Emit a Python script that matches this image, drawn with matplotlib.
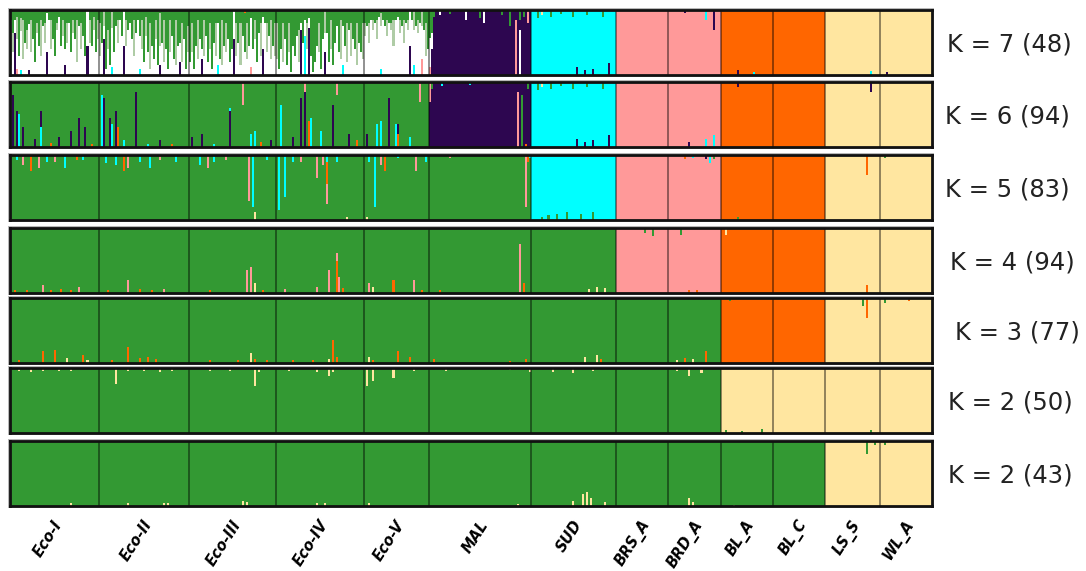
"""STRUCTURE-style admixture bar plot, K = 2..7."""

import matplotlib

matplotlib.use("Agg")

import matplotlib.pyplot as plt
import matplotlib.transforms as mtransforms
import numpy as np
from matplotlib.patches import Rectangle

# ---- data -----------------------------------------------------------------
pops = ["Eco-I", "Eco-II", "Eco-III", "Eco-IV", "Eco-V", "MAL", "SUD",
        "BRS_A", "BRD_A", "BL_A", "BL_C", "LS_S", "WL_A"]
n_ind = [44, 45, 43, 44, 32, 51, 42, 26, 26, 26, 26, 27, 26]

cluster_colors = {
    "G": "#339933",  # green
    "P": "#2D0650",  # dark purple
    "C": "#00FFFF",  # cyan
    "K": "#FF9999",  # pink
    "O": "#FF6600",  # orange
    "Y": "#FFE6A0",  # pale yellow
    "W": "#FFFFFF",  # white (K=7 only)
    "S": "#AFCCA6",  # pale sage (K=7 only)
}

row_labels = ["K = 7 (48)", "K = 6 (94)", "K = 5 (83)", "K = 4 (94)",
              "K = 3 (77)", "K = 2 (50)", "K = 2 (43)"]
# main cluster of each population, one letter per population
row_major = ["GGGGGPCKKOOYY", "GGGGGPCKKOOYY", "GGGGGGCKKOOYY",
             "GGGGGGGKKOOYY", "GGGGGGGGGOOYY", "GGGGGGGGGYYYY",
             "GGGGGGGGGGGYY"]

# K=7: white and sage ancestry of each Eco individual (stacked from bottom)
k7_white = {
    "Eco-I": [0.15, 0.35, 0.2, 0.45, 0.3, 0.6, 0.25, 0.5, 0.4, 0.7, 0.35, 0.55, 0.2, 0.65, 0.45,
              0.3, 0.75, 0.5, 0.6, 0.85, 0.4, 0.55, 0.3, 0.7, 0.9, 0.45, 0.6, 0.25, 0.5, 0.8,
              0.35, 0.65, 0.55, 0.2, 0.75, 0.4, 0.6, 0.3, 0.85, 0.5, 0.45, 0.7, 0.35, 0.55],
    "Eco-II": [0.3, 0.5, 0.2, 0.1, 0.4, 0.15, 0.6, 0.35, 0.75, 0.5, 0.85, 0.6, 0.9, 0.45, 0.7,
               0.8, 0.55, 0.3, 0.65, 0.85, 0.5, 0.4, 0.2, 0.6, 0.35, 0.1, 0.45, 0.25, 0.55, 0.15,
               0.3, 0.5, 0.2, 0.4, 0.1, 0.35, 0.6, 0.25, 0.15, 0.45, 0.3, 0.2, 0.55, 0.1, 0.35],
    "Eco-III": [0.2, 0.35, 0.1, 0.45, 0.25, 0.55, 0.15, 0.3, 0.6, 0.2, 0.4, 0.1, 0.5, 0.3, 0.65,
                0.25, 0.15, 0.45, 0.35, 0.55, 0.2, 0.4, 0.7, 0.3, 0.5, 0.15, 0.6, 0.35, 0.25, 0.45,
                0.75, 0.4, 0.55, 0.2, 0.65, 0.3, 0.5, 0.8, 0.35, 0.6, 0.25, 0.45, 0.3],
    "Eco-IV": [0.25, 0.1, 0.4, 0.2, 0.55, 0.15, 0.35, 0.05, 0.45, 0.3, 0.6, 0.2, 0.1, 0.5, 0.25,
               0.4, 0.15, 0.3, 0.05, 0.2, 0.45, 0.35, 0.1, 0.55, 0.3, 0.65, 0.2, 0.4, 0.15, 0.5,
               0.75, 0.35, 0.25, 0.6, 0.45, 0.2, 0.7, 0.3, 0.55, 0.4, 0.15, 0.5, 0.35, 0.25],
    "Eco-V": [0.6, 0.75, 0.5, 0.85, 0.7, 0.8, 0.55, 0.9, 0.65, 0.85, 0.75, 0.6, 0.8, 0.7, 0.45,
              0.85, 0.9, 0.65, 0.75, 0.5, 0.8, 0.7, 0.6, 0.85, 0.55, 0.75, 0.65, 0.8, 0.5, 0.7,
              0.3, 0.4],
}
k7_sage = {
    "Eco-I": [0.7, 0.3, 0, 0.35, 0, 0.2, 0.6, 0, 0.3, 0, 0.5, 0, 0, 0.15, 0, 0.55, 0, 0.3, 0, 0,
              0.45, 0, 0, 0.1, 0, 0, 0.25, 0, 0.3, 0, 0, 0.2, 0, 0.65, 0, 0.4, 0, 0, 0, 0.35,
              0, 0.2, 0, 0.3],
    "Eco-II": [0.5, 0, 0.6, 0, 0.3, 0, 0.25, 0, 0, 0.35, 0, 0, 0, 0.4, 0, 0, 0, 0.55, 0, 0,
               0, 0.45, 0, 0.3, 0, 0.7, 0, 0, 0.3, 0, 0.5, 0, 0.65, 0, 0, 0.5, 0, 0, 0.7, 0,
               0, 0.6, 0, 0, 0.4],
    "Eco-III": [0, 0.45, 0, 0, 0.6, 0, 0, 0.55, 0, 0, 0.4, 0, 0, 0.5, 0, 0, 0.7, 0, 0.45, 0,
                0, 0, 0, 0.5, 0, 0.65, 0, 0, 0.55, 0, 0, 0, 0.3, 0, 0, 0.5, 0, 0, 0.45, 0,
                0.6, 0, 0.5],
    "Eco-IV": [0.55, 0, 0, 0.6, 0, 0, 0.45, 0, 0, 0, 0, 0.5, 0, 0, 0, 0.4, 0, 0, 0, 0,
               0, 0.45, 0, 0, 0.55, 0, 0, 0.45, 0, 0, 0, 0, 0.6, 0, 0, 0.6, 0, 0.5, 0, 0,
               0.65, 0, 0, 0.55],
    "Eco-V": [0.2, 0, 0.3, 0, 0.15, 0, 0.3, 0, 0.2, 0, 0, 0.25, 0, 0.1, 0.4, 0, 0, 0.2, 0, 0.35,
              0, 0.15, 0.25, 0, 0.3, 0, 0.2, 0, 0.3, 0, 0.5, 0],
}

# admixed individuals: (population, index, cluster, fraction, "b"ottom / "t"op)
spikes_k7 = [
    ("Eco-I", 2, "P", 0.65, "b"), ("Eco-I", 3, "K", 0.1, "b"), ("Eco-I", 5, "C", 0.08, "b"),
    ("Eco-I", 9, "P", 0.08, "b"), ("Eco-I", 18, "P", 0.35, "b"), ("Eco-I", 27, "P", 0.15, "b"),
    ("Eco-I", 38, "P", 0.45, "b"), ("Eco-II", 2, "P", 0.55, "b"), ("Eco-II", 6, "C", 0.12, "b"),
    ("Eco-II", 12, "P", 0.45, "b"), ("Eco-II", 20, "C", 0.1, "b"), ("Eco-II", 30, "P", 0.15, "b"),
    ("Eco-II", 40, "P", 0.2, "b"), ("Eco-III", 6, "P", 0.25, "b"), ("Eco-III", 14, "C", 0.15, "b"),
    ("Eco-III", 22, "P", 0.55, "b"), ("Eco-III", 30, "K", 0.12, "b"), ("Eco-III", 36, "P", 0.4, "b"),
    ("Eco-III", 27, "O", 0.05, "t"), ("Eco-IV", 12, "P", 0.7, "b"), ("Eco-IV", 14, "C", 0.6, "b"),
    ("Eco-IV", 16, "P", 0.72, "b"), ("Eco-IV", 24, "P", 0.35, "b"), ("Eco-IV", 33, "C", 0.15, "b"),
    ("Eco-V", 8, "C", 0.1, "b"), ("Eco-V", 22, "P", 0.45, "b"), ("Eco-V", 24, "C", 0.15, "b"),
    ("Eco-V", 28, "K", 0.25, "b"),
    ("MAL", 0, "K", 0.12, "b"), ("MAL", 0, "W", 0.45, "b"), ("MAL", 0, "G", 0.43, "t"),
    ("MAL", 1, "G", 0.35, "t"), ("MAL", 1, "W", 0.25, "t"), ("MAL", 2, "G", 0.1, "t"),
    ("MAL", 5, "W", 0.08, "t"), ("MAL", 10, "G", 0.06, "t"), ("MAL", 18, "W", 0.15, "t"),
    ("MAL", 25, "G", 0.12, "t"), ("MAL", 27, "W", 0.2, "t"), ("MAL", 36, "G", 0.08, "t"),
    ("MAL", 40, "G", 0.25, "t"), ("MAL", 43, "K", 0.85, "b"), ("MAL", 45, "W", 0.7, "b"),
    ("MAL", 45, "G", 0.15, "t"), ("MAL", 47, "G", 0.1, "t"), ("MAL", 49, "K", 0.2, "t"),
    ("SUD", 3, "G", 0.12, "t"), ("SUD", 5, "Y", 0.08, "t"), ("SUD", 9, "G", 0.1, "t"),
    ("SUD", 14, "G", 0.06, "t"), ("SUD", 20, "G", 0.1, "t"), ("SUD", 27, "G", 0.08, "t"),
    ("SUD", 35, "G", 0.1, "t"), ("SUD", 22, "P", 0.12, "b"), ("SUD", 26, "P", 0.08, "b"),
    ("SUD", 30, "P", 0.1, "b"), ("SUD", 38, "P", 0.18, "b"),
    ("BRD_A", 8, "P", 0.05, "t"), ("BRD_A", 18, "C", 0.15, "t"), ("BRD_A", 22, "P", 0.3, "t"),
    ("BL_A", 8, "P", 0.08, "b"), ("BL_A", 16, "C", 0.05, "b"),
    ("LS_S", 22, "C", 0.06, "b"), ("WL_A", 3, "P", 0.05, "b"),
]
spikes_k6 = [
    ("Eco-I", 1, "P", 0.8, "b"), ("Eco-I", 3, "P", 0.55, "b"), ("Eco-I", 4, "C", 0.5, "b"),
    ("Eco-I", 6, "P", 0.3, "b"), ("Eco-I", 12, "P", 0.12, "b"), ("Eco-I", 15, "C", 0.3, "b"),
    ("Eco-I", 15, "P", 0.25, "b"), ("Eco-I", 20, "O", 0.06, "b"), ("Eco-I", 24, "P", 0.15, "b"),
    ("Eco-I", 30, "P", 0.25, "b"), ("Eco-I", 34, "P", 0.45, "b"), ("Eco-I", 37, "P", 0.3, "b"),
    ("Eco-I", 40, "O", 0.05, "b"),
    ("Eco-II", 1, "C", 0.8, "b"), ("Eco-II", 2, "P", 0.75, "b"), ("Eco-II", 5, "P", 0.45, "b"),
    ("Eco-II", 6, "C", 0.35, "b"), ("Eco-II", 8, "P", 0.55, "b"), ("Eco-II", 9, "O", 0.3, "b"),
    ("Eco-II", 12, "C", 0.1, "b"), ("Eco-II", 18, "P", 0.85, "b"), ("Eco-II", 24, "C", 0.05, "b"),
    ("Eco-II", 30, "P", 0.1, "b"), ("Eco-II", 36, "O", 0.05, "b"),
    ("Eco-III", 1, "P", 0.15, "b"), ("Eco-III", 6, "P", 0.2, "b"), ("Eco-III", 12, "C", 0.05, "b"),
    ("Eco-III", 20, "P", 0.55, "b"), ("Eco-III", 20, "C", 0.05, "b"), ("Eco-III", 26, "K", 0.35, "t"),
    ("Eco-III", 30, "C", 0.2, "b"), ("Eco-III", 32, "C", 0.25, "b"), ("Eco-III", 35, "O", 0.08, "b"),
    ("Eco-III", 40, "P", 0.1, "b"),
    ("Eco-IV", 2, "C", 0.65, "b"), ("Eco-IV", 8, "P", 0.15, "b"), ("Eco-IV", 12, "P", 0.75, "b"),
    ("Eco-IV", 14, "P", 0.85, "b"), ("Eco-IV", 14, "K", 0.15, "t"), ("Eco-IV", 16, "O", 0.4, "b"),
    ("Eco-IV", 17, "C", 0.45, "b"), ("Eco-IV", 22, "C", 0.25, "b"), ("Eco-IV", 28, "P", 0.65, "b"),
    ("Eco-IV", 30, "K", 0.2, "t"), ("Eco-IV", 36, "P", 0.2, "b"), ("Eco-IV", 40, "O", 0.1, "b"),
    ("Eco-V", 1, "P", 0.2, "b"), ("Eco-V", 6, "C", 0.35, "b"), ("Eco-V", 8, "C", 0.4, "b"),
    ("Eco-V", 12, "P", 0.75, "b"), ("Eco-V", 15, "C", 0.35, "b"), ("Eco-V", 16, "O", 0.2, "b"),
    ("Eco-V", 16, "P", 0.15, "b"), ("Eco-V", 22, "C", 0.15, "b"), ("Eco-V", 27, "K", 0.3, "t"),
    ("MAL", 0, "K", 0.3, "t"), ("MAL", 1, "G", 0.1, "t"), ("MAL", 6, "C", 0.06, "t"),
    ("MAL", 20, "C", 0.05, "t"), ("MAL", 44, "K", 0.85, "b"), ("MAL", 46, "G", 0.8, "b"),
    ("MAL", 48, "O", 0.05, "b"), ("MAL", 49, "G", 0.1, "t"),
    ("SUD", 3, "G", 0.12, "t"), ("SUD", 5, "Y", 0.08, "t"), ("SUD", 9, "G", 0.1, "t"),
    ("SUD", 14, "G", 0.06, "t"), ("SUD", 20, "G", 0.1, "t"), ("SUD", 27, "G", 0.08, "t"),
    ("SUD", 35, "G", 0.1, "t"), ("SUD", 22, "P", 0.12, "b"), ("SUD", 26, "P", 0.08, "b"),
    ("SUD", 30, "P", 0.1, "b"), ("SUD", 38, "P", 0.18, "b"),
    ("BRD_A", 10, "P", 0.08, "b"), ("BRD_A", 18, "C", 0.12, "b"), ("BRD_A", 22, "C", 0.18, "b"),
    ("BL_A", 8, "P", 0.08, "t"), ("LS_S", 22, "P", 0.15, "t"),
]
spikes_k5 = [
    ("Eco-I", 3, "C", 0.08, "t"), ("Eco-I", 6, "K", 0.15, "t"), ("Eco-I", 10, "O", 0.25, "t"),
    ("Eco-I", 14, "K", 0.2, "t"), ("Eco-I", 18, "C", 0.1, "t"), ("Eco-I", 22, "K", 0.1, "t"),
    ("Eco-I", 27, "C", 0.2, "t"), ("Eco-I", 33, "O", 0.08, "t"), ("Eco-I", 36, "C", 0.08, "t"),
    ("Eco-II", 3, "C", 0.12, "t"), ("Eco-II", 8, "C", 0.15, "t"), ("Eco-II", 12, "O", 0.25, "t"),
    ("Eco-II", 14, "K", 0.2, "t"), ("Eco-II", 20, "C", 0.1, "t"), ("Eco-II", 25, "C", 0.2, "t"),
    ("Eco-II", 30, "K", 0.08, "t"), ("Eco-II", 38, "C", 0.1, "t"),
    ("Eco-III", 5, "C", 0.15, "t"), ("Eco-III", 9, "K", 0.2, "t"), ("Eco-III", 12, "C", 0.1, "t"),
    ("Eco-III", 18, "K", 0.08, "t"), ("Eco-III", 29, "K", 0.7, "t"), ("Eco-III", 31, "C", 0.8, "t"),
    ("Eco-III", 32, "Y", 0.12, "b"), ("Eco-III", 38, "C", 0.08, "t"),
    ("Eco-IV", 1, "C", 0.85, "t"), ("Eco-IV", 4, "C", 0.65, "t"), ("Eco-IV", 8, "C", 0.1, "t"),
    ("Eco-IV", 12, "K", 0.1, "t"), ("Eco-IV", 20, "K", 0.35, "t"), ("Eco-IV", 23, "K", 0.15, "t"),
    ("Eco-IV", 25, "C", 0.1, "t"), ("Eco-IV", 25, "O", 0.35, "t"), ("Eco-IV", 25, "K", 0.3, "t"),
    ("Eco-IV", 30, "C", 0.1, "t"), ("Eco-IV", 35, "Y", 0.05, "b"),
    ("Eco-V", 2, "C", 0.1, "t"), ("Eco-V", 5, "C", 0.8, "t"), ("Eco-V", 8, "K", 0.15, "t"),
    ("Eco-V", 10, "O", 0.25, "t"), ("Eco-V", 16, "C", 0.05, "t"), ("Eco-V", 25, "K", 0.25, "t"),
    ("Eco-V", 30, "C", 0.1, "t"), ("Eco-V", 1, "Y", 0.05, "b"),
    ("MAL", 10, "K", 0.05, "t"), ("MAL", 48, "K", 0.8, "t"), ("MAL", 49, "O", 0.1, "t"),
    ("MAL", 50, "C", 0.05, "t"),
    ("SUD", 5, "G", 0.05, "b"), ("SUD", 8, "G", 0.08, "b"), ("SUD", 12, "G", 0.1, "b"),
    ("SUD", 17, "G", 0.12, "b"), ("SUD", 24, "G", 0.1, "b"), ("SUD", 30, "G", 0.12, "b"),
    ("BRD_A", 8, "O", 0.06, "t"), ("BRD_A", 12, "C", 0.05, "t"), ("BRD_A", 18, "P", 0.06, "t"),
    ("BRD_A", 20, "C", 0.12, "t"), ("BRD_A", 22, "G", 0.06, "t"),
    ("BL_A", 8, "G", 0.05, "b"), ("LS_S", 20, "O", 0.3, "t"), ("WL_A", 2, "G", 0.04, "t"),
]
spikes_k4 = [
    ("Eco-I", 2, "O", 0.05, "b"), ("Eco-I", 8, "O", 0.05, "b"), ("Eco-I", 16, "K", 0.12, "b"),
    ("Eco-I", 20, "O", 0.05, "b"), ("Eco-I", 25, "O", 0.06, "b"), ("Eco-I", 30, "O", 0.04, "b"),
    ("Eco-I", 34, "K", 0.1, "b"),
    ("Eco-II", 4, "O", 0.05, "b"), ("Eco-II", 14, "K", 0.2, "b"), ("Eco-II", 20, "O", 0.06, "b"),
    ("Eco-II", 26, "O", 0.05, "b"), ("Eco-II", 32, "K", 0.06, "b"),
    ("Eco-III", 10, "O", 0.05, "b"), ("Eco-III", 28, "K", 0.35, "b"), ("Eco-III", 30, "K", 0.4, "b"),
    ("Eco-III", 32, "Y", 0.15, "b"), ("Eco-III", 36, "O", 0.05, "b"),
    ("Eco-IV", 4, "K", 0.06, "b"), ("Eco-IV", 20, "K", 0.1, "b"), ("Eco-IV", 26, "K", 0.35, "b"),
    ("Eco-IV", 30, "O", 0.5, "b"), ("Eco-IV", 30, "K", 0.12, "b"), ("Eco-IV", 31, "K", 0.25, "b"),
    ("Eco-IV", 33, "O", 0.08, "b"),
    ("Eco-V", 2, "K", 0.15, "b"), ("Eco-V", 4, "Y", 0.1, "b"), ("Eco-V", 14, "O", 0.2, "b"),
    ("Eco-V", 24, "K", 0.2, "b"), ("Eco-V", 28, "O", 0.05, "b"),
    ("MAL", 5, "O", 0.05, "b"), ("MAL", 45, "K", 0.75, "b"), ("MAL", 47, "O", 0.15, "b"),
    ("SUD", 28, "Y", 0.06, "b"), ("SUD", 32, "Y", 0.1, "b"), ("SUD", 36, "Y", 0.08, "b"),
    ("BRS_A", 14, "G", 0.08, "t"), ("BRS_A", 18, "G", 0.12, "t"),
    ("BRD_A", 10, "O", 0.05, "b"), ("BRD_A", 14, "O", 0.04, "b"), ("BRD_A", 6, "G", 0.1, "t"),
    ("BL_A", 2, "Y", 0.1, "t"), ("LS_S", 20, "O", 0.12, "b"),
]
spikes_k3 = [
    ("Eco-I", 4, "O", 0.04, "b"), ("Eco-I", 16, "O", 0.18, "b"), ("Eco-I", 22, "O", 0.2, "b"),
    ("Eco-I", 28, "Y", 0.08, "b"), ("Eco-I", 36, "O", 0.12, "b"), ("Eco-I", 38, "Y", 0.05, "b"),
    ("Eco-II", 6, "O", 0.05, "b"), ("Eco-II", 14, "O", 0.25, "b"), ("Eco-II", 20, "O", 0.08, "b"),
    ("Eco-II", 24, "O", 0.1, "b"), ("Eco-II", 28, "O", 0.06, "b"),
    ("Eco-III", 10, "O", 0.04, "b"), ("Eco-III", 24, "O", 0.05, "b"), ("Eco-III", 30, "Y", 0.16, "b"),
    ("Eco-III", 32, "O", 0.06, "b"), ("Eco-III", 38, "O", 0.05, "b"),
    ("Eco-IV", 8, "O", 0.04, "b"), ("Eco-IV", 18, "O", 0.05, "b"), ("Eco-IV", 26, "Y", 0.06, "b"),
    ("Eco-IV", 28, "O", 0.35, "b"), ("Eco-IV", 30, "O", 0.1, "b"),
    ("Eco-V", 2, "Y", 0.1, "b"), ("Eco-V", 4, "O", 0.05, "b"), ("Eco-V", 16, "O", 0.18, "b"),
    ("Eco-V", 22, "O", 0.1, "b"),
    ("MAL", 2, "O", 0.06, "b"), ("MAL", 40, "O", 0.03, "b"), ("MAL", 48, "O", 0.06, "b"),
    ("SUD", 26, "Y", 0.1, "b"), ("SUD", 32, "Y", 0.12, "b"), ("SUD", 34, "O", 0.06, "b"),
    ("BRD_A", 4, "Y", 0.05, "b"), ("BRD_A", 8, "O", 0.08, "b"), ("BRD_A", 12, "Y", 0.06, "b"),
    ("BRD_A", 18, "O", 0.18, "b"), ("BL_A", 4, "G", 0.04, "t"),
    ("LS_S", 18, "G", 0.12, "t"), ("LS_S", 20, "O", 0.3, "t"),
    ("WL_A", 2, "G", 0.08, "t"), ("WL_A", 14, "O", 0.04, "t"),
]
spikes_k2a = [
    ("Eco-I", 4, "Y", 0.04, "t"), ("Eco-I", 10, "Y", 0.06, "t"), ("Eco-I", 16, "Y", 0.04, "t"),
    ("Eco-I", 24, "Y", 0.05, "t"), ("Eco-I", 30, "Y", 0.04, "t"),
    ("Eco-II", 8, "Y", 0.25, "t"), ("Eco-II", 14, "Y", 0.04, "t"), ("Eco-II", 22, "Y", 0.05, "t"),
    ("Eco-II", 30, "Y", 0.06, "t"), ("Eco-II", 36, "Y", 0.04, "t"),
    ("Eco-III", 10, "Y", 0.04, "t"), ("Eco-III", 20, "Y", 0.05, "t"), ("Eco-III", 32, "Y", 0.28, "t"),
    ("Eco-III", 34, "Y", 0.06, "t"),
    ("Eco-IV", 6, "Y", 0.04, "t"), ("Eco-IV", 20, "Y", 0.06, "t"), ("Eco-IV", 26, "Y", 0.12, "t"),
    ("Eco-IV", 28, "Y", 0.06, "t"),
    ("Eco-V", 1, "Y", 0.28, "t"), ("Eco-V", 4, "Y", 0.2, "t"), ("Eco-V", 14, "Y", 0.16, "t"),
    ("Eco-V", 24, "Y", 0.05, "t"),
    ("MAL", 8, "Y", 0.04, "t"), ("MAL", 40, "Y", 0.03, "t"), ("MAL", 50, "Y", 0.06, "t"),
    ("SUD", 10, "Y", 0.06, "t"), ("SUD", 20, "Y", 0.08, "t"), ("SUD", 30, "Y", 0.05, "t"),
    ("BRD_A", 4, "Y", 0.04, "t"), ("BRD_A", 10, "Y", 0.12, "t"), ("BRD_A", 16, "Y", 0.08, "t"),
    ("BL_A", 2, "G", 0.04, "b"), ("BL_A", 10, "G", 0.03, "b"), ("BL_A", 20, "G", 0.06, "b"),
    ("LS_S", 22, "G", 0.05, "b"),
]
spikes_k2b = [
    ("Eco-I", 30, "Y", 0.04, "b"), ("Eco-II", 14, "Y", 0.04, "b"), ("Eco-II", 32, "Y", 0.04, "b"),
    ("Eco-II", 34, "Y", 0.04, "b"), ("Eco-III", 26, "Y", 0.08, "b"), ("Eco-III", 28, "Y", 0.06, "b"),
    ("Eco-IV", 20, "Y", 0.04, "b"), ("Eco-IV", 24, "Y", 0.04, "b"), ("Eco-V", 2, "Y", 0.04, "b"),
    ("MAL", 44, "Y", 0.03, "b"),
    ("SUD", 20, "Y", 0.08, "b"), ("SUD", 25, "Y", 0.18, "b"), ("SUD", 27, "Y", 0.22, "b"),
    ("SUD", 29, "Y", 0.12, "b"), ("SUD", 36, "Y", 0.06, "b"),
    ("BRD_A", 10, "Y", 0.12, "b"), ("BRD_A", 12, "Y", 0.06, "b"), ("BL_A", 6, "Y", 0.02, "b"),
    ("LS_S", 20, "G", 0.2, "t"), ("LS_S", 24, "G", 0.06, "t"), ("WL_A", 2, "G", 0.06, "t"),
]
row_spikes = [spikes_k7, spikes_k6, spikes_k5, spikes_k4, spikes_k3, spikes_k2a, spikes_k2b]

# ---- layout (pixels of the 1086 x 571 figure) ---------------------------
FIG_W, FIG_H = 1086, 571
LEFT_PX, RIGHT_PX = 10, 932
ROW_TOP_PX = [10, 82, 155, 228, 298, 368, 441]
ROW_H_PX = 65
LABEL_X_PX = [947, 945, 945, 950, 955, 948, 948]

starts = np.concatenate([[0], np.cumsum(n_ind)])
n_total = starts[-1]

fig = plt.figure(figsize=(FIG_W / 100, FIG_H / 100), dpi=100)
bar_kw = dict(width=1.0, linewidth=0, align="center")

axes = []
for r, (label, major, spikes) in enumerate(zip(row_labels, row_major, row_spikes)):
    top = ROW_TOP_PX[r]
    rect = [LEFT_PX / FIG_W, 1 - (top + ROW_H_PX) / FIG_H,
            (RIGHT_PX - LEFT_PX) / FIG_W, ROW_H_PX / FIG_H]
    # thin grey shadow frame around each panel
    fig.patches.append(Rectangle(
        ((LEFT_PX - 2) / FIG_W, 1 - (top + ROW_H_PX + 2) / FIG_H),
        (RIGHT_PX - LEFT_PX + 4) / FIG_W, (ROW_H_PX + 4) / FIG_H,
        transform=fig.transFigure, facecolor="#b8b8b8", edgecolor="none", zorder=-5))
    ax = fig.add_axes(rect)
    ax.set_zorder(1)
    axes.append(ax)

    for p, name in enumerate(pops):
        xs = starts[p] + np.arange(n_ind[p]) + 0.5
        ax.bar(xs, np.ones(n_ind[p]), color=cluster_colors[major[p]], **bar_kw)
        bottoms = np.zeros(n_ind[p])
        tops = np.zeros(n_ind[p])
        for pop, i, c, frac, side in spikes:
            if pop != name:
                continue
            if side == "b":
                ax.bar(xs[i], frac, bottom=bottoms[i], color=cluster_colors[c], **bar_kw)
                bottoms[i] += frac
            else:
                tops[i] += frac
                ax.bar(xs[i], frac, bottom=1 - tops[i], color=cluster_colors[c], **bar_kw)
        if r == 0 and name in k7_white:
            white = np.array(k7_white[name], dtype=float)
            sage = np.array(k7_sage[name], dtype=float)
            ax.bar(xs, white, bottom=bottoms, color=cluster_colors["W"], **bar_kw)
            ax.bar(xs, sage, bottom=bottoms + white, color=cluster_colors["S"], **bar_kw)

    for b in starts[1:-1]:
        ax.axvline(b, color="black", alpha=0.55, lw=1.1)

    ax.set_xlim(0, n_total)
    ax.set_ylim(0, 1)
    ax.set_xticks([])
    ax.set_yticks([])
    for spine in ax.spines.values():
        spine.set_linewidth(2.0)
        spine.set_color("#111111")

    fig.text(LABEL_X_PX[r] / FIG_W, 1 - (top + ROW_H_PX / 2 + 2) / FIG_H, label,
             ha="left", va="center", fontsize=17.5, color="#222222")

# population names under the last panel
ax = axes[-1]
trans = mtransforms.blended_transform_factory(ax.transData, ax.transAxes)
centers = (starts[:-1] + starts[1:]) / 2
for name, cx in zip(pops, centers):
    ax.text(cx + 2.5, -0.24, name, transform=trans, rotation=57,
            rotation_mode="anchor", ha="right", va="center",
            fontsize=10.5, fontweight="bold", fontstyle="italic")

fig.savefig("out.png", dpi=100)
